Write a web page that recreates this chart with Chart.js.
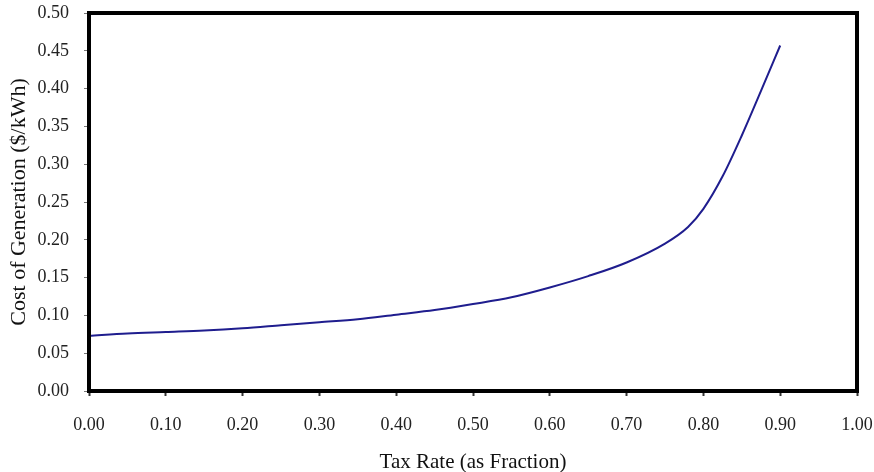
<!DOCTYPE html>
<html>
  <head>
    <title>Cost of Generation</title>
    <meta charset="UTF-8">
    <script src="https://cdn.jsdelivr.net/npm/chart.js@4/dist/chart.umd.min.js"></script>
    <style type="text/css">
      html, body { margin: 0; padding: 0; background: #fff; }
      #wrap { width: 874px; height: 472px; }
    </style>
  </head>
  <body>
    <div id="wrap"><canvas id="cost-chart" width="874" height="472"></canvas></div>
    <script type="text/javascript">
      // Tax rate (fraction) against cost of generation ($/kWh)
      const tax_rate = [0.00, 0.05, 0.10, 0.15, 0.20, 0.25, 0.30, 0.35, 0.40, 0.45, 0.50,
                        0.55, 0.60, 0.65, 0.70, 0.75, 0.78, 0.80, 0.825, 0.85, 0.875, 0.90]
      const cost = [0.073, 0.076, 0.078, 0.080, 0.083, 0.087, 0.091, 0.095, 0.101, 0.107, 0.115,
                    0.124, 0.137, 0.152, 0.170, 0.195, 0.217, 0.241, 0.284, 0.338, 0.397, 0.457]

      const x_ticks = [0, 0.1, 0.2, 0.3, 0.4, 0.5, 0.6, 0.7, 0.8, 0.9, 1.0]
      const y_ticks = [0, 0.05, 0.1, 0.15, 0.2, 0.25, 0.3, 0.35, 0.4, 0.45, 0.5]

      const serif = "'Liberation Serif', 'Times New Roman', serif"

      // fixed box sizes, no label overhang padding
      const fixSize = (s, w, h) => {
        if (w) s.width = w
        if (h) s.height = h
        s.paddingTop = s.paddingBottom = s.paddingLeft = s.paddingRight = 0
      }

      // heavy black frame round the plot area
      const frame = {
        id: 'frame',
        afterDraw(chart) {
          const {ctx, chartArea: a} = chart
          ctx.save()
          ctx.strokeStyle = '#000'
          ctx.lineWidth = 4
          ctx.strokeRect(a.left, a.top, a.right - a.left, a.bottom - a.top)
          ctx.restore()
        }
      }

      var ctx = document.getElementById("cost-chart")

      var lineChart = new Chart(ctx, {
        type: 'line',
        data: {
          datasets: [{
            data: tax_rate.map((t, i) => ({x: t, y: cost[i]})),
            borderColor: '#1f1d8e',
            borderWidth: 2,
            pointRadius: 0,
            cubicInterpolationMode: 'monotone',
            fill: false
          }]
        },
        options: {
          responsive: false,
          animation: false,
          layout: { autoPadding: false, padding: { left: 0, right: 17, top: 13, bottom: 0 } },
          plugins: { legend: { display: false }, tooltip: { enabled: false } },
          scales: {
            x: {
              type: 'linear',
              min: 0, max: 1,
              afterFit: s => fixSize(s, 0, 81),
              afterBuildTicks: s => { s.ticks = x_ticks.map(v => ({value: v})) },
              border: { display: false },
              grid: { drawOnChartArea: false, tickLength: 5, tickWidth: 2, color: '#333' },
              ticks: {
                padding: 18,
                color: '#222',
                font: { family: serif, size: 18 },
                maxRotation: 0,
                callback: v => v.toFixed(2)
              },
              title: {
                display: true,
                text: 'Tax Rate (as Fraction)',
                color: '#111',
                padding: { top: 0, bottom: -1 },
                font: { family: serif, size: 21, lineHeight: 1 }
              }
            },
            y: {
              min: 0, max: 0.5,
              afterFit: s => fixSize(s, 89, 0),
              afterBuildTicks: s => { s.ticks = y_ticks.map(v => ({value: v})) },
              border: { display: false },
              grid: { drawOnChartArea: false, tickLength: 5, color: '#777' },
              ticks: {
                padding: 15,
                color: '#222',
                font: { family: serif, size: 18 },
                callback: v => v.toFixed(2)
              },
              title: {
                display: true,
                text: 'Cost of Generation ($/kWh)',
                color: '#111',
                padding: { top: 8, bottom: 0 },
                font: { family: serif, size: 22, lineHeight: 1 }
              }
            }
          }
        },
        plugins: [frame]
      })
    </script>
  </body>
</html>
